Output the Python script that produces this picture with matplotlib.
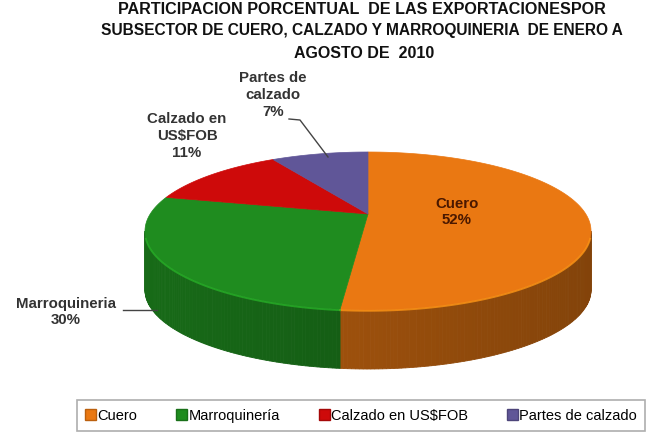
import numpy as np
import matplotlib
matplotlib.use('Agg')
import matplotlib.pyplot as plt
from matplotlib import font_manager
from matplotlib.patches import Polygon, Patch
from matplotlib.colors import to_rgb

# participacion por subsector, enero-agosto 2010
categorias = ['Cuero', 'Marroquinería', 'Calzado en US$FOB', 'Partes de calzado']
etiquetas = ['Cuero\n52%', 'Marroquineria\n30%', 'Calzado en\nUS$FOB\n11%', 'Partes de\ncalzado\n7%']
porcentajes = [52, 30, 11, 7]
colores = ['#EA7812', '#1F8C1F', '#CE0A0A', '#605698']

titulo = ['PARTICIPACION PORCENTUAL  DE LAS EXPORTACIONESPOR',
          'SUBSECTOR DE CUERO, CALZADO Y MARROQUINERIA  DE ENERO A',
          'AGOSTO DE  2010']

nombres = {f.name for f in font_manager.fontManager.ttflist}
angosta = 'Liberation Sans Narrow' if 'Liberation Sans Narrow' in nombres else 'Liberation Sans'

W, H = 650, 436
fig = plt.figure(figsize=(W / 100, H / 100), dpi=100)
ax = fig.add_axes([0, 0, 1, 1])
ax.set_xlim(0, W)
ax.set_ylim(H, 0)
ax.axis('off')

# geometria de la torta 3D (pixeles)
cx, cy, a, b = 368, 231, 223, 79
prof = 59
vertice = (368, 214)


def borde(th):
    th = np.radians(th)
    return cx + a * np.sin(th), cy - b * np.cos(th)


def sombra(color, f):
    return tuple(np.clip(np.array(to_rgb(color)) * f, 0, 1))


total = sum(porcentajes)
fin = np.cumsum(porcentajes) / total * 360
ini = np.concatenate([[0], fin[:-1]])

# paredes laterales (solo la mitad frontal es visible)
for c, t0, t1 in zip(colores, ini, fin):
    lo, hi = max(t0, 90), min(t1, 270)
    if lo >= hi:
        continue
    ts = np.linspace(lo, hi, int(hi - lo) + 2)
    for u, v in zip(ts[:-1], ts[1:]):
        x0, y0 = borde(u)
        x1, y1 = borde(v)
        f = 0.66 - 0.1 * np.sin(np.radians((u + v) / 2))
        ax.add_patch(Polygon([(x0, y0), (x1, y1), (x1, y1 + prof), (x0, y0 + prof)],
                             closed=True, facecolor=sombra(c, f), edgecolor=sombra(c, f),
                             lw=0.6))

# caras superiores
for c, t0, t1 in zip(colores, ini, fin):
    ts = np.linspace(t0, t1, int(t1 - t0) * 2 + 2)
    xs, ys = borde(ts)
    pts = [vertice] + list(zip(xs, ys))
    ax.add_patch(Polygon(pts, closed=True, facecolor=c, edgecolor=c, lw=0.5))
    # brillo del borde frontal
    lo, hi = max(t0, 95), min(t1, 265)
    if lo < hi:
        tt = np.linspace(lo, hi, 100)
        bx, by = borde(tt)
        ax.plot(bx, by + 0.8, color=sombra(c, 1.25), lw=1.3, alpha=0.8)

# titulo
ax.text(362, 10, titulo[0], ha='center', va='center', fontsize=11.6,
        fontweight='bold', family=angosta, color='#111111')
ax.text(362, 31, titulo[1], ha='center', va='center', fontsize=11.2,
        fontweight='bold', family='Liberation Sans', color='#111111')
ax.text(364, 53, titulo[2], ha='center', va='center', fontsize=11.5,
        fontweight='bold', family=angosta, color='#111111')

# etiquetas de datos
pos = [(457, 212), (66, 312), (187, 136), (273, 95)]
tcol = ['#4A1800', '#333333', '#333333', '#333333']
for txt, (x, y), tc in zip(etiquetas, pos, tcol):
    ax.text(x, y, txt, ha='center', va='center', fontsize=10.8, fontweight='bold',
            family='Liberation Sans', color=tc, linespacing=1.25)

# lineas guia
ax.plot([123, 157], [310, 310], color='#444444', lw=1)
ax.plot([289, 300, 328], [119, 120, 157], color='#444444', lw=1)

# leyenda
handles = [Patch(facecolor=c, edgecolor=sombra(c, 0.8)) for c in colores]
leg = fig.legend(handles, categorias, ncol=4, mode='expand',
                 bbox_to_anchor=(77 / W, 1 - 433 / H, 568 / W, 35 / H),
                 loc='center', borderaxespad=0, borderpad=0.55, frameon=True,
                 fancybox=False, handlelength=0.75, handleheight=0.75,
                 handletextpad=0.1, prop={'family': angosta, 'size': 10.5})
leg.get_frame().set_edgecolor('#9A9A9A')
leg.get_frame().set_linewidth(1.2)

fig.savefig('out.png', dpi=100)
